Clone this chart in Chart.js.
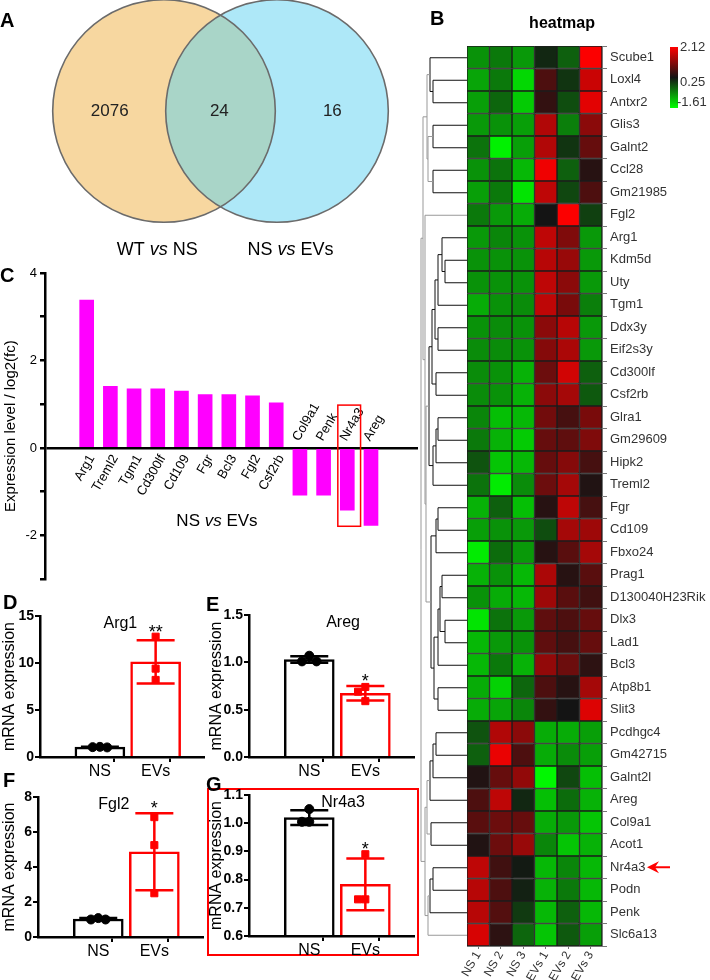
<!DOCTYPE html>
<html>
<head>
<meta charset="utf-8">
<script src="https://cdn.jsdelivr.net/npm/chart.js@4.4.1/dist/chart.umd.min.js"></script>
<style>
  body { margin: 0; background: #fff; }
  #page { position: relative; width: 710px; height: 980px; overflow: hidden; font-family: 'Liberation Sans', Arial, sans-serif; }
  canvas { position: absolute; }
  .tag { position: absolute; font-weight: bold; font-size: 20px; line-height: 20px; }
  #gbox { position: absolute; left: 207px; top: 788px; width: 208px; height: 164px; border: 2px solid #f00; }
</style>
</head>
<body>
<div id="page">
  <div id="gbox"></div>
  <canvas id="venn" width="400" height="270" style="left:0;top:0"></canvas>
  <canvas id="fold" width="420" height="330" style="left:0;top:260px"></canvas>
  <canvas id="heat" width="350" height="980" style="left:360px;top:0"></canvas>
  <canvas id="qArg1" width="210" height="190" style="left:0;top:590px"></canvas>
  <canvas id="qAreg" width="213" height="190" style="left:207px;top:590px"></canvas>
  <canvas id="qFgl2" width="210" height="180" style="left:0;top:780px"></canvas>
  <canvas id="qNr4a3" width="213" height="180" style="left:207px;top:780px"></canvas>
  <div class="tag" style="left:0;top:10px">A</div>
  <div class="tag" style="left:430px;top:8px">B</div>
  <div class="tag" style="left:0;top:265px">C</div>
  <div class="tag" style="left:3px;top:592px">D</div>
  <div class="tag" style="left:206px;top:594px">E</div>
  <div class="tag" style="left:3px;top:770px">F</div>
  <div class="tag" style="left:206px;top:774px">G</div>
</div>
<script>
const FONT = "'Liberation Sans', Arial, sans-serif";
Chart.defaults.font.family = FONT;
Chart.defaults.color = '#000';
Chart.defaults.animation = false;
Chart.defaults.responsive = false;
Chart.defaults.devicePixelRatio = 1;
Chart.defaults.plugins.legend.display = false;
Chart.defaults.plugins.tooltip.enabled = false;

// ---- A: Venn ----
const vennSets = ['WT vs NS', 'NS vs EVs'];
const vennCounts = [2076, 24, 16];
const vennCentres = [0, 1];
const vennRadius = 0.985;

// ---- B: heatmap ----
const genes = ['Scube1', 'Loxl4', 'Antxr2', 'Glis3', 'Galnt2', 'Ccl28', 'Gm21985', 'Fgl2', 'Arg1', 'Kdm5d',
  'Uty', 'Tgm1', 'Ddx3y', 'Eif2s3y', 'Cd300lf', 'Csf2rb', 'Glra1', 'Gm29609', 'Hipk2', 'Treml2',
  'Fgr', 'Cd109', 'Fbxo24', 'Prag1', 'D130040H23Rik', 'Dlx3', 'Lad1', 'Bcl3', 'Atp8b1', 'Slit3',
  'Pcdhgc4', 'Gm42715', 'Galnt2l', 'Areg', 'Col9a1', 'Acot1', 'Nr4a3', 'Podn', 'Penk', 'Slc6a13'];
const sampleNames = ['NS 1', 'NS 2', 'NS 3', 'EVs 1', 'EVs 2', 'EVs 3'];
const ns1 = [-0.75, -0.90, -0.85, -0.80, -0.50, -0.75, -0.85, -0.55, -0.80, -0.75, -0.75, -0.95, -0.75, -0.70, -0.70, -0.70, -0.65, -0.55, -0.25, -0.50,
  -1.00, -0.85, -1.45, -1.00, -0.75, -1.40, -1.05, -1.05, -0.95, -0.95, -0.25, -0.35, 0.35, 0.70, 0.80, 0.35, 1.60, 1.55, 1.55, 1.80];
const ns2 = [-0.55, -0.55, -0.40, -0.75, -1.50, -0.50, -0.55, -0.80, -0.65, -0.75, -0.75, -0.75, -0.70, -0.70, -0.75, -0.75, -1.10, -1.00, -1.15, -1.45,
  -0.35, -0.75, -0.45, -0.75, -0.95, -0.50, -0.80, -0.55, -1.25, -0.90, 1.50, 1.95, 0.90, 1.60, 0.95, 0.95, 0.60, 0.70, 0.75, 0.45];
const ns3 = [-0.80, -1.30, -1.20, -0.85, -0.85, -1.05, -1.40, -0.95, -0.75, -0.75, -0.75, -0.70, -0.75, -0.75, -1.00, -1.00, -1.05, -1.20, -1.05, -0.70,
  -1.10, -0.80, -0.80, -1.05, -1.05, -0.80, -0.75, -1.00, -0.40, -0.65, 1.20, 0.70, 1.25, 0.10, 0.90, 1.30, 0.20, 0.15, -0.05, -0.40];
const evs1 = [0.10, 0.70, 0.50, 1.50, 1.50, 2.00, 1.60, 0.25, 1.60, 1.55, 1.60, 1.60, 1.20, 1.15, 0.95, 1.20, 1.00, 0.90, 0.90, 0.95,
  0.40, -0.20, 0.40, 1.45, 1.35, 0.85, 0.85, 1.25, 0.70, 0.50, -0.95, -0.95, -1.55, -1.10, -0.95, -0.65, -1.05, -1.00, -1.05, -1.15];
const evs2 = [-0.35, 0.00, -0.20, -0.60, 0.00, -0.35, -0.15, 2.10, 1.10, 1.30, 1.20, 1.05, 1.55, 1.45, 1.75, 1.40, 0.65, 0.85, 1.15, 1.40,
  1.60, 1.40, 0.80, 0.40, 0.80, 0.70, 0.65, 0.95, 0.40, 0.25, -0.95, -0.70, -0.15, -0.45, -0.80, -1.15, -0.65, -0.55, -0.35, -0.30];
const evs3 = [2.10, 1.70, 1.90, 1.20, 0.90, 0.40, 0.70, -0.10, -0.80, -0.80, -0.80, -0.60, -0.80, -0.80, -0.35, -0.30, 1.05, 1.10, 0.65, 0.35,
  0.65, 1.35, 1.40, 0.80, 0.60, 0.90, 0.90, 0.45, 1.40, 1.85, -0.85, -0.85, -1.10, -1.00, -1.15, -1.00, -1.05, -1.05, -1.05, -0.85];
const heatColumns = [ns1, ns2, ns3, evs1, evs2, evs3];
const heatMin = -1.61, heatMid = 0.25, heatMax = 2.12;
// row clustering: [height, left, right], leaves are row indexes
const geneTree = [46,
  [44,
    [40, [37, 0, [34, 1, 2]], [39, [34, 3, 4], [34, 5, 6]]],
    [42, 7,
      [41,
        [38, [35, [32, [29, [25, 8, [22, 9, 10]], 11], [29, 12, 13]], [31, 14, 15]], [34, [31, [29, 16, 17], 18], 19]],
        [36, [31, [29, 20, 21], 22], [33, [29, [27, [25, 23, 24], [22, 25, 26]], 27], [29, 28, 29]]]]]],
  [42, [40, [37, [34, [31, 30, 31], 32], 33], [36, 34, 35]], [39, [37, [34, 36, 37], 38], 39]]];

// ---- C: fold change ----
const foldGenes = ['Arg1', 'Treml2', 'Tgm1', 'Cd300lf', 'Cd109', 'Fgr', 'Bcl3', 'Fgl2', 'Csf2rb', 'Col9a1', 'Penk', 'Nr4a3', 'Areg'];
const foldValues = [3.38, 1.41, 1.35, 1.35, 1.30, 1.22, 1.22, 1.19, 1.03, -1.08, -1.08, -1.42, -1.77];
const foldTicks = [-3, -2, -1, 0, 1, 2, 3, 4];

// ---- D-G: qPCR ----
const groups = ['NS', 'EVs'];
const arg1Means = [1.05, 10.13], arg1Sds = [0.03, 2.3], arg1NS = [1.08, 1.05, 1.02], arg1EVs = [12.8, 9.4, 8.2];
const aregMeans = [1.03, 0.673], aregSds = [0.035, 0.076], aregNS = [1.07, 1.01, 1.01], aregEVs = [0.74, 0.69, 0.59];
const fgl2Means = [1.03, 4.87], fgl2Sds = [0.05, 2.2], fgl2NS = [1.08, 1.0, 1.0], fgl2EVs = [6.85, 5.25, 2.5];
const nr4a3Means = [1.02, 0.783], nr4a3Sds = [0.026, 0.092], nr4a3NS = [1.05, 1.005, 1.005], nr4a3EVs = [0.89, 0.73, 0.73];

// ---------- helpers ----------
function drawVs(ctx, text, cx, cy, size) {
  const parts = text.split(' vs ');
  const normal = size + 'px ' + FONT, ital = 'italic ' + size + 'px ' + FONT;
  ctx.font = normal;
  const w1 = ctx.measureText(parts[0] + ' ').width;
  const w3 = ctx.measureText(' ' + parts[1]).width;
  ctx.font = ital;
  const w2 = ctx.measureText('vs').width;
  let x = cx - (w1 + w2 + w3) / 2;
  ctx.textAlign = 'left';
  ctx.textBaseline = 'middle';
  ctx.font = normal; ctx.fillText(parts[0] + ' ', x, cy); x += w1;
  ctx.font = ital; ctx.fillText('vs', x, cy); x += w2;
  ctx.font = normal; ctx.fillText(' ' + parts[1], x, cy);
}

function heatColor(v) {
  if (v >= heatMid) {
    const t = Math.min(1, (v - heatMid) / (heatMax - heatMid));
    return `rgb(${Math.round(20 + 235 * t)},${Math.round(20 * (1 - t))},${Math.round(20 * (1 - t))})`;
  }
  const t = Math.min(1, (heatMid - v) / (heatMid - heatMin));
  return `rgb(${Math.round(20 * (1 - t))},${Math.round(20 + 235 * t)},${Math.round(20 * (1 - t))})`;
}

function unitPx(chart) {
  const x = chart.scales.x;
  return x.getPixelForValue(1) - x.getPixelForValue(0);
}

// ---------- A: Venn ----------
const vennPlugin = {
  id: 'venn',
  afterDatasetsDraw(chart) {
    const { ctx, scales: { x, y } } = chart;
    const r = vennRadius * unitPx(chart);
    const c = vennCentres.map(v => [x.getPixelForValue(v), y.getPixelForValue(0)]);
    ctx.save();
    ctx.beginPath(); ctx.arc(c[0][0], c[0][1], r, 0, Math.PI * 2); ctx.clip();
    ctx.beginPath(); ctx.arc(c[1][0], c[1][1], r, 0, Math.PI * 2);
    ctx.fillStyle = '#a9d5c8'; ctx.fill();
    ctx.restore();
    ctx.save();
    ctx.strokeStyle = '#6b6b6b'; ctx.lineWidth = 1.6;
    c.forEach(p => { ctx.beginPath(); ctx.arc(p[0], p[1], r, 0, Math.PI * 2); ctx.stroke(); });
    ctx.fillStyle = '#222';
    ctx.font = '17px ' + FONT; ctx.textAlign = 'center'; ctx.textBaseline = 'middle';
    [-0.48, 0.49, 1.49].forEach((v, i) => ctx.fillText(String(vennCounts[i]), x.getPixelForValue(v), y.getPixelForValue(0)));
    ctx.fillStyle = '#000';
    drawVs(ctx, vennSets[0], x.getPixelForValue(-0.06), y.getPixelForValue(-1.23), 18);
    drawVs(ctx, vennSets[1], x.getPixelForValue(1.12), y.getPixelForValue(-1.23), 18);
    ctx.restore();
  }
};

new Chart(document.getElementById('venn'), {
  type: 'scatter',
  data: {
    datasets: vennCentres.map((cx, i) => ({
      data: [{ x: cx, y: 0 }],
      backgroundColor: ['#f7d7a0', '#aee8f8'][i],
      borderWidth: 0,
      clip: false,
      pointRadius: ctx => vennRadius * unitPx(ctx.chart),
      pointHoverRadius: ctx => vennRadius * unitPx(ctx.chart)
    }))
  },
  options: {
    layout: { padding: 0 },
    scales: {
      x: { type: 'linear', min: -1.4513, max: 2.0885, display: false },
      y: { type: 'linear', min: -1.4071, max: 0.9823, display: false }
    }
  },
  plugins: [vennPlugin]
});

// ---------- B: heatmap ----------
const heatPlugin = {
  id: 'heatExtras',
  afterDraw(chart) {
    const { ctx, chartArea: area, scales: { y } } = chart;
    ctx.save();
    // title
    ctx.fillStyle = '#000';
    ctx.font = 'bold 16px ' + FONT; ctx.textAlign = 'center'; ctx.textBaseline = 'middle';
    ctx.fillText('heatmap', area.left + 95, 24);
    // dendrogram
    const xh = h => area.left - h;
    function node(n) {
      if (typeof n === 'number') return { y: y.getPixelForValue(n), h: 0 };
      const a = node(n[1]), b = node(n[2]);
      ctx.strokeStyle = n[0] >= 39 ? '#999' : '#111';
      ctx.lineWidth = 1;
      ctx.beginPath();
      ctx.moveTo(xh(a.h), a.y + 0.5); ctx.lineTo(xh(n[0]), a.y + 0.5);
      ctx.lineTo(xh(n[0]), b.y + 0.5); ctx.lineTo(xh(b.h), b.y + 0.5);
      ctx.stroke();
      return { y: (a.y + b.y) / 2, h: n[0] };
    }
    node(geneTree);
    // colour key
    const kx = area.right + 68, ky = 47, kh = 61;
    const g = ctx.createLinearGradient(0, ky, 0, ky + kh);
    g.addColorStop(0, '#ff0000'); g.addColorStop(0.5, '#141414'); g.addColorStop(1, '#00ff00');
    ctx.fillStyle = g; ctx.fillRect(kx, ky, 8, kh);
    ctx.fillStyle = '#333'; ctx.font = '13px ' + FONT; ctx.textAlign = 'left';
    ctx.fillText(heatMax.toFixed(2), kx + 10, ky);
    ctx.fillText(heatMid.toFixed(2), kx + 10, ky + 35);
    ctx.fillText(heatMin.toFixed(2), kx + 7, ky + 55);
    // arrow on Nr4a3
    const ay = y.getPixelForValue(genes.indexOf('Nr4a3'));
    const tip = area.right + 45;
    ctx.fillStyle = '#f00'; ctx.strokeStyle = '#f00'; ctx.lineWidth = 2;
    ctx.beginPath(); ctx.moveTo(tip + 7, ay); ctx.lineTo(tip + 23, ay); ctx.stroke();
    ctx.beginPath(); ctx.moveTo(tip, ay); ctx.lineTo(tip + 12, ay - 6); ctx.lineTo(tip + 8, ay);
    ctx.lineTo(tip + 12, ay + 6); ctx.closePath(); ctx.fill();
    ctx.restore();
  }
};

new Chart(document.getElementById('heat'), {
  type: 'bar',
  data: {
    labels: genes,
    datasets: heatColumns.map((col, c) => ({
      label: sampleNames[c],
      data: col.map(() => [c, c + 1]),
      backgroundColor: col.map(heatColor),
      borderColor: '#1c1c1c',
      borderWidth: 1,
      borderSkipped: false,
      barPercentage: 1,
      categoryPercentage: 1,
      grouped: false
    }))
  },
  options: {
    indexAxis: 'y',
    layout: { padding: { left: 107, top: 46, right: 0, bottom: 0 } },
    scales: {
      x: {
        type: 'linear', min: 0, max: 6,
        afterBuildTicks: s => { s.ticks = sampleNames.map((n, i) => ({ value: i + 0.5 })); },
        afterFit: s => { s.height = 34; },
        ticks: { autoSkip: false, minRotation: 60, maxRotation: 60, padding: 0, color: '#333', font: { size: 12 },
          callback: (v, i) => sampleNames[i] },
        grid: { drawOnChartArea: false, tickLength: 3, color: '#777' },
        border: { color: '#777' }
      },
      y: {
        position: 'right',
        afterFit: s => { s.width = 108; },
        ticks: { autoSkip: false, padding: 3, color: '#333', font: { size: 13 } },
        grid: { drawOnChartArea: false, tickLength: 5, color: '#777' },
        border: { color: '#777' }
      }
    }
  },
  plugins: [heatPlugin]
});

// ---------- C: fold change ----------
const foldPlugin = {
  id: 'foldExtras',
  afterDatasetsDraw(chart) {
    const { ctx, scales: { x, y } } = chart;
    const y0 = y.getPixelForValue(0);
    ctx.save();
    ctx.fillStyle = '#000';
    ctx.font = '13px ' + FONT;
    ctx.textBaseline = 'middle';
    foldGenes.forEach((g, i) => {
      const px = x.getPixelForValue(i);
      ctx.save();
      if (foldValues[i] >= 0) {
        ctx.translate(px + 5, y0 + 8); ctx.rotate(-Math.PI / 3); ctx.textAlign = 'right';
      } else {
        ctx.translate(px - 4, y0 - 8); ctx.rotate(-Math.PI / 3); ctx.textAlign = 'left';
      }
      ctx.fillText(g, 0, 0);
      ctx.restore();
    });
    drawVs(ctx, 'NS vs EVs', x.getPixelForValue(5.5), y.getPixelForValue(-1.68), 17);
    // highlight box around Nr4a3
    const k = foldGenes.indexOf('Nr4a3');
    const bx0 = x.getPixelForValue(k - 0.4), bx1 = x.getPixelForValue(k + 0.56);
    const by0 = y.getPixelForValue(0.98), by1 = y.getPixelForValue(-1.79);
    ctx.strokeStyle = '#f00'; ctx.lineWidth = 1.5;
    ctx.strokeRect(bx0, by0, bx1 - bx0, by1 - by0);
    ctx.restore();
  }
};

new Chart(document.getElementById('fold'), {
  type: 'bar',
  data: {
    datasets: [{
      data: foldGenes.map((g, i) => ({ x: i, y: foldValues[i] })),
      backgroundColor: '#ff00ff',
      barThickness: 14
    }]
  },
  options: {
    layout: { padding: { left: 0, top: 13, right: 2, bottom: 4 } },
    scales: {
      x: { type: 'linear', min: -0.775, max: 13.0, display: false },
      y: {
        min: foldTicks[0], max: foldTicks[foldTicks.length - 1],
        afterBuildTicks: s => { s.ticks = foldTicks.map(v => ({ value: v })); },
        afterFit: s => { s.width = 45; },
        ticks: { font: { size: 13 }, padding: 3, callback: v => (v % 2 === 0 && v > -3) ? String(v) : '' },
        grid: {
          color: c => (c.tick && c.tick.value === 0) ? '#000' : 'rgba(0,0,0,0)',
          lineWidth: 2.5, tickColor: '#000', tickLength: 5
        },
        border: { color: '#000', width: 2.5 },
        title: { display: true, text: 'Expression level / log2(fc)', font: { size: 15 }, padding: 2 }
      }
    }
  },
  plugins: [foldPlugin]
});

// ---------- D-G: qPCR bars ----------
const groupColors = ['#000', '#f00'];

function qpcrChart(id, spec) {
  const span = spec.max - spec.min;
  function spread(vals) {
    return vals.map((v, k) => {
      const n = vals.slice(0, k).filter(u => Math.abs(u - v) < span * 0.05).length;
      return [0, -1, 1][Math.min(n, 2)] * 0.13;
    });
  }
  const ticks = [];
  for (let v = spec.min; v <= spec.max + 1e-9; v += spec.step) ticks.push(+v.toFixed(4));

  const plugin = {
    id: 'qpcr',
    afterDatasetDraw(chart, args) {
      if (args.index !== 0) return;
      const { ctx, scales: { x, y } } = chart;
      ctx.save();
      ctx.lineWidth = 2.5;
      spec.means.forEach((m, i) => {
        const px = x.getPixelForValue(i);
        const top = y.getPixelForValue(m + spec.sds[i]);
        const bot = y.getPixelForValue(m - spec.sds[i]);
        ctx.strokeStyle = groupColors[i];
        ctx.beginPath();
        ctx.moveTo(px, top); ctx.lineTo(px, bot);
        ctx.moveTo(px - 19, top); ctx.lineTo(px + 19, top);
        ctx.moveTo(px - 19, bot); ctx.lineTo(px + 19, bot);
        ctx.stroke();
      });
      ctx.restore();
    },
    afterDraw(chart) {
      const { ctx, chartArea: a, scales: { x, y } } = chart;
      ctx.save();
      ctx.fillStyle = '#000';
      ctx.font = '16px ' + FONT; ctx.textAlign = 'center'; ctx.textBaseline = 'middle';
      ctx.fillText(spec.title, a.left + (a.right - a.left) * spec.titleFrac, a.top + 8);
      const hi = Math.max(spec.means[1] + spec.sds[1], ...spec.evs);
      ctx.font = '18px ' + FONT; ctx.textBaseline = 'alphabetic';
      ctx.fillText(spec.star, x.getPixelForValue(1), y.getPixelForValue(hi) + 1);
      ctx.restore();
    }
  };

  const nsOff = spread(spec.ns), evOff = spread(spec.evs);
  new Chart(document.getElementById(id), {
    type: 'bar',
    data: {
      datasets: [
        {
          type: 'bar', order: 2,
          data: groups.map((g, i) => ({ x: i, y: spec.means[i] })),
          backgroundColor: '#fff', borderColor: groupColors, borderWidth: 2.5,
          barThickness: 50, base: spec.min
        },
        {
          type: 'scatter', order: 0,
          data: spec.ns.map((v, k) => ({ x: nsOff[k], y: v })),
          pointStyle: 'circle', pointRadius: 4.5, backgroundColor: '#000', borderColor: '#000'
        },
        {
          type: 'scatter', order: 0,
          data: spec.evs.map((v, k) => ({ x: 1 + evOff[k], y: v })),
          pointStyle: 'rect', pointRadius: 5, backgroundColor: '#f00', borderColor: '#f00'
        }
      ]
    },
    options: {
      layout: { padding: { left: 0, top: spec.padTop, right: spec.padRight, bottom: 0 } },
      scales: {
        x: {
          type: 'linear', min: -0.707, max: 1.5,
          afterBuildTicks: s => { s.ticks = [0, 0.5, 1, 1.5].map(v => ({ value: v })); },
          afterFit: s => { s.height = spec.xHeight; },
          ticks: { font: { size: 16 }, padding: 0, maxRotation: 0,
            callback: v => v === 0 ? groups[0] : (v === 1 ? groups[1] : '') },
          grid: {
            drawOnChartArea: false, tickLength: 5, lineWidth: 2,
            tickColor: c => (c.tick && (c.tick.value === 0.5 || c.tick.value === 1.5)) ? '#000' : 'rgba(0,0,0,0)'
          },
          border: { color: '#000', width: 2.5 }
        },
        y: {
          min: spec.min, max: spec.max,
          afterBuildTicks: s => { s.ticks = ticks.map(v => ({ value: v })); },
          afterFit: s => { s.width = spec.yWidth; },
          ticks: { font: { size: 14, weight: 'bold' }, padding: 1,
            callback: v => v.toFixed(spec.digits) },
          grid: { drawOnChartArea: false, tickLength: 5, lineWidth: 2, tickColor: '#000' },
          border: { color: '#000', width: 2.5 },
          title: { display: true, text: 'mRNA expression', font: { size: 16 }, padding: 0 }
        }
      }
    },
    plugins: [plugin]
  });
}

qpcrChart('qArg1', { title: 'Arg1', titleFrac: 0.49, means: arg1Means, sds: arg1Sds, ns: arg1NS, evs: arg1EVs, star: '**',
  min: 0, max: 15, step: 5, digits: 0, yWidth: 40, padTop: 26, padRight: 6, xHeight: 23 });
qpcrChart('qAreg', { title: 'Areg', titleFrac: 0.57, means: aregMeans, sds: aregSds, ns: aregNS, evs: aregEVs, star: '*',
  min: 0, max: 1.5, step: 0.5, digits: 1, yWidth: 42, padTop: 25, padRight: 5, xHeight: 23 });
qpcrChart('qFgl2', { title: 'Fgl2', titleFrac: 0.46, means: fgl2Means, sds: fgl2Sds, ns: fgl2NS, evs: fgl2EVs, star: '*',
  min: 0, max: 8, step: 2, digits: 0, yWidth: 38, padTop: 17, padRight: 7, xHeight: 23 });
qpcrChart('qNr4a3', { title: 'Nr4a3', titleFrac: 0.57, means: nr4a3Means, sds: nr4a3Sds, ns: nr4a3NS, evs: nr4a3EVs, star: '*',
  min: 0.6, max: 1.1, step: 0.1, digits: 1, yWidth: 42, padTop: 15, padRight: 5, xHeight: 24 });
</script>
</body>
</html>
